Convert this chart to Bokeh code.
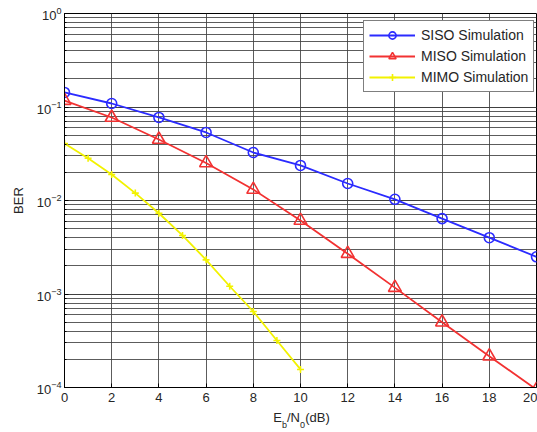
from bokeh.plotting import figure
from bokeh.models import Legend, LegendItem, FixedTicker, LinearAxis, Range1d
from bokeh.embed import file_html
from bokeh.resources import INLINE

snr_db = [0, 2, 4, 6, 8, 10, 12, 14, 16, 18, 20]
siso_ber = [0.143, 0.109, 0.0773, 0.0534, 0.0326, 0.0237, 0.0152, 0.0103, 0.0064, 0.0040, 0.0025]
miso_ber = [0.117, 0.0772, 0.0449, 0.0252, 0.0131, 0.0061, 0.0027, 0.00117, 0.000499, 0.000216, 0.000095]
mimo_snr_db = [0, 1, 2, 3, 4, 5, 6, 7, 8, 9, 10]
mimo_ber = [0.0407, 0.0283, 0.0190, 0.0120, 0.00731, 0.00423, 0.00232, 0.00121, 0.00065, 0.000318, 0.000156]
x_ticks = [0, 2, 4, 6, 8, 10, 12, 14, 16, 18, 20]

FONT = "Liberation Sans"
BLUE = "#2b2bff"
RED = "#f23232"
YELLOW = "#f2f200"
TXT = "#262626"

p = figure(width=537, height=432, y_axis_type="log",
           x_range=(0, 20), y_range=(1e-4, 1),
           output_backend="svg", toolbar_location=None,
           min_border_left=64, min_border_right=1, min_border_top=13, min_border_bottom=45)

p.background_fill_color = "white"
p.outline_line_color = "black"
p.outline_line_width = 1

# grids
p.xgrid.ticker = FixedTicker(ticks=x_ticks)
for g in (p.xgrid[0], p.ygrid[0]):
    g.grid_line_color = "#404040"
    g.grid_line_alpha = 0.85
p.ygrid.minor_grid_line_color = "#404040"
p.ygrid.minor_grid_line_alpha = 0.85

# axes
p.xaxis.ticker = FixedTicker(ticks=x_ticks)
for ax in (p.xaxis[0], p.yaxis[0]):
    ax.axis_line_color = "black"
    ax.major_tick_in = 4
    ax.major_tick_out = 0
    ax.minor_tick_in = 2
    ax.minor_tick_out = 0
    ax.major_tick_line_color = "black"
    ax.minor_tick_line_color = "black"
    ax.major_label_text_font = FONT
    ax.major_label_text_font_size = "13px"
    ax.major_label_text_color = TXT
p.xaxis.minor_tick_line_color = None
p.xaxis.major_label_standoff = 5
p.yaxis.major_label_standoff = 3
p.yaxis.axis_label = "BER"
p.yaxis.axis_label_text_font = FONT
p.yaxis.axis_label_text_font_size = "13px"
p.yaxis.axis_label_text_font_style = "normal"
p.yaxis.axis_label_text_color = TXT
p.yaxis.axis_label_standoff = 8

# series
r1 = p.line(snr_db, siso_ber, line_color=BLUE, line_width=1.8)
m1 = p.scatter(snr_db, siso_ber, marker="circle", size=10, fill_color=None,
               line_color=BLUE, line_width=1.6)
r2 = p.line(snr_db, miso_ber, line_color=RED, line_width=1.8)
m2 = p.scatter(snr_db, miso_ber, marker="triangle", size=13, fill_color=None,
               line_color=RED, line_width=1.6)
r3 = p.line(mimo_snr_db, mimo_ber, line_color=YELLOW, line_width=1.8)
m3 = p.scatter(mimo_snr_db, mimo_ber, marker="cross", size=7,
               line_color=YELLOW, line_width=1.6)

legend = Legend(items=[
    LegendItem(label="SISO Simulation", renderers=[r1, m1]),
    LegendItem(label="MISO Simulation", renderers=[r2, m2]),
    LegendItem(label="MIMO Simulation", renderers=[r3, m3]),
], location=(299, 295))
legend.label_text_font = FONT
legend.label_text_font_size = "14px"
legend.label_text_color = TXT
legend.glyph_width = 46
legend.glyph_height = 18
legend.label_height = 18
legend.spacing = 3
legend.padding = 5
legend.margin = 0
legend.border_line_color = "black"
legend.border_line_width = 1
legend.background_fill_color = "white"
legend.background_fill_alpha = 1
legend.label_standoff = 6
p.add_layout(legend)

# x axis label "E_b/N_0(dB)" composed from two label-only axes (main text + subscripts)
p.extra_x_ranges = {"px": Range1d(64, 536)}
main_pos = [277, 293, 317]
main_txt = ["E", "/N", "(dB)"]
sub_pos = [284, 302]
sub_txt = ["b", "0"]

def text_axis(pos, txt, size, standoff):
    a = LinearAxis(x_range_name="px", ticker=FixedTicker(ticks=pos),
                   major_label_overrides=dict(zip(pos, txt)))
    a.axis_line_color = None
    a.major_tick_line_color = None
    a.minor_tick_line_color = None
    a.major_tick_in = 0
    a.major_tick_out = 0
    a.minor_tick_in = 0
    a.minor_tick_out = 0
    a.major_label_text_font = FONT
    a.major_label_text_font_size = size
    a.major_label_text_color = TXT
    a.major_label_standoff = standoff
    return a

p.add_layout(text_axis(main_pos, main_txt, "13px", 5), "below")
p.add_layout(text_axis(sub_pos, sub_txt, "9px", -8), "below")

open("out.html", "w").write(file_html(p, INLINE))
